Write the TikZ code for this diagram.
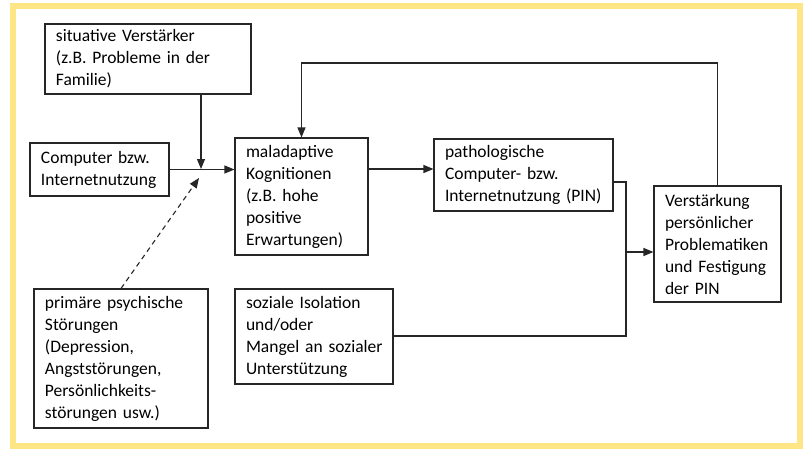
\documentclass[tikz,border=0pt]{standalone}
\usepackage{fontspec}
\setmainfont{Carlito}
\usetikzlibrary{arrows.meta}
\definecolor{frameyellow}{RGB}{254,230,135}
\begin{document}
\begin{tikzpicture}[x=1pt,y=-1pt,
  box/.style={draw=black!85,line width=1.1pt,align=left,inner xsep=11pt,inner ysep=0pt,
    font=\fontsize{17.5}{22}\selectfont},
  conn/.style={draw=black!85,line width=1.1pt},
  arr/.style={conn,-{Triangle[length=10pt,width=8pt]}}]
\useasboundingbox (0,0) rectangle (804,450);
\draw[frameyellow,line width=6pt,fill=white] (13,6) rectangle (800,446);
\node[box,text width=184pt,minimum height=70pt] (sit) at (148,59)
  {situative Verstärker\\(z.B. Probleme in der\\Familie)};
\node[box,text width=117pt,minimum height=53pt] (comp) at (99.5,169.5)
  {Computer bzw.\\Internetnutzung};
\node[box,text width=111pt,minimum height=117pt] (mal) at (301.5,196.5)
  {maladaptive\\Kognitionen\\(z.B. hohe\\positive\\Erwartungen)};
\node[box,text width=157pt,minimum height=72pt] (path) at (523.5,175)
  {pathologische\\Computer- bzw.\\Internetnutzung (PIN)};
\node[box,text width=105pt,minimum height=116pt] (verst) at (717.5,244)
  {Verstärkung\\persönlicher\\Problematiken\\und Festigung\\der PIN};
\node[box,text width=152pt,minimum height=139pt] (prim) at (121,358.5)
  {primäre psychische\\Störungen\\(Depression,\\Angststörungen,\\Persönlichkeits-\\störungen usw.)};
\node[box,text width=144pt,inner xsep=7pt,minimum height=95pt] (soz) at (314,336.5)
  {\hspace*{4pt}soziale Isolation\\\hspace*{4pt}und/oder\\\hspace*{4pt}Mangel an sozialer\\\hspace*{4pt}Unterstützung};
\coordinate (J) at (201,169);
\coordinate (D) at (199,178);
\coordinate (T) at (0,63);
\coordinate (M) at (626,252);
\draw[arr] (sit.south -| J) -- (J);
\draw[arr] (comp.east) -- (comp.east -| mal.west);
\draw[arr,dash pattern=on 5pt off 4pt] (prim.north) -- (D);
\draw[arr] (verst.north) |- (T -| mal.north) -- (mal.north);
\draw[arr] (mal.east |- J) -- (path.west |- J);
\draw[conn] (path.east |- 0,182) -| (M);
\draw[conn] (soz.east |- 0,336) -| (M);
\draw[arr] (M) -- (M -| verst.west);
\end{tikzpicture}
\end{document}
